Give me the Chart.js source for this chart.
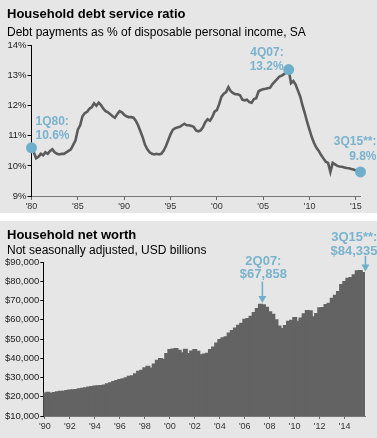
<!DOCTYPE html>
<html><head><meta charset="utf-8">
<script src="https://cdn.jsdelivr.net/npm/chart.js@4.4.0/dist/chart.umd.min.js"></script>
<style>
html,body{margin:0;padding:0;background:#fff;}
body{width:377px;height:438px;position:relative;overflow:hidden;font-family:Arial,"Liberation Sans",sans-serif;}
.panel{position:absolute;left:0;width:377px;background:#e6e6e6;}
#p1{top:0;height:213px;}
#p2{top:221px;height:217px;}
.t{position:absolute;left:7px;white-space:nowrap;color:#000;}
.h{font-weight:bold;font-size:13px;line-height:13px;}
.s{font-size:12px;line-height:12px;}
canvas{position:absolute;left:0;top:0;}
</style></head>
<body>
<div class="panel" id="p1">
  <canvas id="c1" width="377" height="213"></canvas>
  <div class="t h" style="top:7px">Household debt service ratio</div>
  <div class="t s" style="top:26px">Debt payments as % of disposable personal income, SA</div>
</div>
<div class="panel" id="p2">
  <canvas id="c2" width="377" height="217"></canvas>
  <div class="t h" style="top:7px">Household net worth</div>
  <div class="t s" style="top:23px">Not seasonally adjusted, USD billions</div>
</div>
<script>
// ---------- DATA ----------
// Household debt service ratio, quarterly 1Q80 .. 3Q15 (%)
const dsrValues = [
  10.60,10.45,10.25,10.30, 10.40,10.35,10.45,10.40, 10.50,10.55,10.45,10.40, 10.38,10.40,10.40,10.45,
  10.50,10.55,10.70,10.85, 11.20,11.35,11.65,11.75, 11.80,11.90,11.95,12.08, 12.00,12.10,12.02,11.90,
  11.82,11.78,11.72,11.65, 11.60,11.72,11.82,11.78, 11.70,11.65,11.62,11.62, 11.60,11.50,11.35,11.15,
  10.95,10.70,10.55,10.45, 10.40,10.38,10.40,10.38, 10.40,10.50,10.65,10.85, 11.05,11.20,11.25,11.28,
  11.30,11.35,11.40,11.35, 11.35,11.33,11.30,11.18, 11.15,11.18,11.28,11.45, 11.55,11.50,11.62,11.80,
  11.85,12.05,12.30,12.40, 12.45,12.62,12.48,12.42, 12.38,12.38,12.35,12.20, 12.18,12.20,12.12,12.10,
  12.22,12.25,12.48,12.52, 12.55,12.56,12.58,12.60, 12.72,12.80,12.88,12.97, 13.00,13.05,13.12,13.20,
  12.75,12.82,12.70,12.50, 12.30,12.00,11.74,11.45, 11.20,10.95,10.75,10.60, 10.50,10.36,10.25,10.14,
  10.10,9.80,10.10,10.05, 10.00,9.98,9.97,9.95, 9.93,9.92,9.90,9.88, 9.85,9.83,9.80
];
const dsrFirstYear = 1980;
const dsrTickLabels = ["'80","'85","'90","'95","'00","'05","'10","'15"];
const dsrCallouts = [
  {label:"1Q80", lines:["1Q80:","10.6%"]},
  {label:"4Q07", lines:["4Q07:","13.2%"]},
  {label:"3Q15", lines:["3Q15**:","9.8%"]}
];

// Household net worth, quarterly 1Q90 .. 3Q15 (USD billions)
const nwValues = [
  21800,22100,21600,22000, 22400,22600,22700,23000, 23300,23400,23600,23900, 24200,24500,24800,25100,
  25400,25500,25700,25900, 26500,27100,27700,28200, 28800,29200,29700,30400, 30700,31800,33100,33600,
  34900,35600,34700,36800, 38700,39600,39300,42300, 44300,44600,44800,43900, 42700,44500,42300,43600,
  44300,43400,41600,42000, 42400,44400,45600,47700, 49500,50400,50900,52900, 54200,55500,57000,58000,
  60000,60500,61600,63600, 65700,67858,67600,66300, 64000,62600,59800,56600, 55300,56800,59000,59500,
  61000,59000,60700,62900, 64600,64500,61400,63100, 66000,66100,67700,68300, 71000,72500,74500,78100,
  79700,81300,81700,83200, 85200,85400,84335
];
const nwFirstYear = 1990;
const nwTickLabels = ["'90","'92","'94","'96","'98","'00","'02","'04","'06","'08","'10","'12","'14"];
const nwCallouts = [
  {label:"2Q07", lines:["2Q07:","$67,858"]},
  {label:"3Q15", lines:["3Q15**:","$84,335"]}
];

// ---------- BUILD ----------
function quarterLabels(firstYear, n){
  const out=[];
  for(let i=0;i<n;i++){
    const y=firstYear+Math.floor(i/4), q=i%4+1;
    out.push(q+'Q'+String(y%100).padStart(2,'0'));
  }
  return out;
}
const dsrQuarters = quarterLabels(dsrFirstYear, dsrValues.length);
const nwQuarters = quarterLabels(nwFirstYear, nwValues.length);

const FONT = 'Arial, "Liberation Sans", sans-serif';
const BLUE = '#6fafcb';
const TXT = '#7ab3cd';

const dsrHighlight = dsrCallouts.map(c=>dsrQuarters.indexOf(c.label));
const nwHighlight = nwCallouts.map(c=>nwQuarters.indexOf(c.label));

// callout placement (offsets from the data point, px)
const dsrLayout = [
  {align:'left', dx:4, dy:[-23,-9]},
  {align:'right', dx:-5, dy:[-14,0]},
  {align:'right', dx:16, dy:[-27,-12]}
];
const nwLayout = [
  {align:'center', dx:3, dy:[-40,-27], arrow:[-23,-1.5]},
  {align:'right', dx:14, dy:[-32,-18], arrow:[-17,-1.5]}
];

const calloutPlugin = {
  id:'callouts',
  afterDatasetsDraw(chart, args, opts){
    const ctx = chart.ctx;
    const meta = chart.getDatasetMeta(0);
    ctx.save();
    opts.items.forEach((it,k)=>{
      const lay = opts.layout[k];
      const el = meta.data[opts.idx[k]];
      const x = el.x, y = el.y;
      ctx.fillStyle = TXT;
      ctx.font = 'bold '+opts.size+'px '+FONT;
      ctx.textAlign = lay.align;
      ctx.textBaseline = 'alphabetic';
      it.lines.forEach((ln,j)=> ctx.fillText(ln, x+lay.dx, y+lay.dy[j]));
      if(lay.arrow){
        const ax = x + 2;
        const y0 = y+lay.arrow[0], y1 = y+lay.arrow[1];
        ctx.strokeStyle = BLUE; ctx.lineWidth = 1.6;
        ctx.beginPath(); ctx.moveTo(ax,y0); ctx.lineTo(ax,y1-5); ctx.stroke();
        ctx.fillStyle = BLUE;
        ctx.beginPath(); ctx.moveTo(ax-4,y1-7); ctx.lineTo(ax+4,y1-7); ctx.lineTo(ax,y1); ctx.closePath(); ctx.fill();
      }
    });
    ctx.restore();
  }
};

const tickFont = {size:9.5, family:FONT};

new Chart(document.getElementById('c1'), {
  type:'line',
  data:{labels:dsrQuarters, datasets:[{
    data:dsrValues, borderColor:'#5b5b5b', borderWidth:2.6, tension:0, clip:false,
    pointRadius:(c)=> dsrHighlight.includes(c.dataIndex)?5.5:0,
    pointHoverRadius:0, pointBackgroundColor:BLUE, pointBorderWidth:0
  }]},
  options:{
    responsive:false, animation:false, devicePixelRatio:1,
    layout:{padding:{left:0,right:16.5,top:45.5,bottom:0}},
    plugins:{legend:{display:false}, tooltip:{enabled:false},
      callouts:{items:dsrCallouts, idx:dsrHighlight, layout:dsrLayout, size:12}},
    scales:{
      x:{type:'category', offset:false,
        grid:{drawOnChartArea:false, tickLength:4, color:'#666', offset:false},
        border:{display:true, color:'#777', width:1},
        ticks:{autoSkip:false, maxRotation:0, minRotation:0, padding:1, font:{size:9, family:FONT}, color:'#333',
          callback:(v,i)=> (i%20===0 && dsrTickLabels[i/20]!==undefined) ? dsrTickLabels[i/20] : null},
        afterFit:(s)=>{s.height=17;}
      },
      y:{min:9, max:14,
        grid:{drawOnChartArea:false, tickLength:4, color:'#000'},
        border:{display:true, color:'#000', width:1},
        ticks:{stepSize:1, padding:1, font:tickFont, color:'#222', callback:(v)=>v+'%'},
        afterFit:(s)=>{s.width=31.5;}
      }
    }
  },
  plugins:[calloutPlugin]
});

new Chart(document.getElementById('c2'), {
  type:'bar',
  data:{labels:nwQuarters, datasets:[{
    data:nwValues, backgroundColor:'#636363', borderColor:'#636363', borderWidth:0,
    barPercentage:1, categoryPercentage:1, inflateAmount:0.9
  }]},
  options:{
    responsive:false, animation:false, devicePixelRatio:1,
    layout:{padding:{left:0,right:12,top:41,bottom:0}},
    plugins:{legend:{display:false}, tooltip:{enabled:false},
      callouts:{items:nwCallouts, idx:nwHighlight, layout:nwLayout, size:13}},
    scales:{
      x:{type:'category', offset:true,
        grid:{drawOnChartArea:false, tickLength:3, color:'#666', offset:false},
        border:{display:true, color:'#777', width:1},
        ticks:{autoSkip:false, maxRotation:0, minRotation:0, padding:2, font:{size:9, family:FONT}, color:'#333',
          callback:(v,i)=> (i%8===0 && nwTickLabels[i/8]!==undefined) ? nwTickLabels[i/8] : null},
        afterFit:(s)=>{s.height=22;}
      },
      y:{min:10000, max:90000,
        grid:{drawOnChartArea:false, tickLength:3, color:'#000'},
        border:{display:true, color:'#000', width:1},
        ticks:{stepSize:10000, padding:1, font:tickFont, color:'#222',
          callback:(v)=>'$'+v.toLocaleString('en-US')},
        afterFit:(s)=>{s.width=43.3;}
      }
    }
  },
  plugins:[calloutPlugin]
});
</script>
</body></html>
